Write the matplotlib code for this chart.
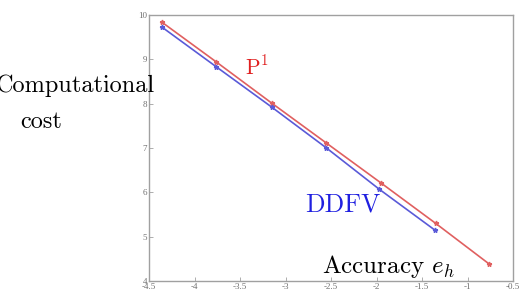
import matplotlib
matplotlib.use('Agg')
import matplotlib.pyplot as plt

plt.rcParams['mathtext.fontset'] = 'cm'

# log10 accuracy vs log10 computational cost
acc_p1 = [-4.36, -3.76, -3.15, -2.55, -1.95, -1.35, -0.76]
cost_p1 = [9.84, 8.94, 8.01, 7.11, 6.21, 5.30, 4.38]
acc_ddfv = [-4.36, -3.76, -3.15, -2.55, -1.97, -1.36]
cost_ddfv = [9.73, 8.83, 7.92, 7.00, 6.07, 5.15]

xticks = [-4.5, -4, -3.5, -3, -2.5, -2, -1.5, -1, -0.5]
xticklabels = ['-4.5', '-4', '-3.5', '-3', '-2.5', '-2', '-1.5', '-1', '-0.5']
yticks = [4, 5, 6, 7, 8, 9, 10]

red = '#e06060'
blue = '#5a5ad8'
grey = '#a0a0a0'

fig = plt.figure(figsize=(5.29, 2.97), dpi=100)
ax = fig.add_axes([0.2817, 0.0539, 0.6881, 0.8956])

ax.plot(acc_p1, cost_p1, color=red, lw=1.2, marker='*', ms=3.5)
ax.plot(acc_ddfv, cost_ddfv, color=blue, lw=1.2, marker='*', ms=3.5)

ax.set_xlim(-4.5, -0.5)
ax.set_ylim(4, 10)
ax.set_xticks(xticks)
ax.set_xticklabels(xticklabels)
ax.set_yticks(yticks)
ax.tick_params(direction='in', length=3, width=0.6, color=grey, labelcolor='#707070',
               labelsize=6.5, pad=1.5)
for lab in ax.get_xticklabels() + ax.get_yticklabels():
    lab.set_family('Liberation Serif')
for sp in ax.spines.values():
    sp.set_color(grey)
    sp.set_linewidth(1.0)

# annotations (placed in figure coords, baseline aligned)
fig.text(0.293, 0.690, 'Computational', ha='right', va='baseline',
         family='cmr10', fontsize=17.5)
fig.text(0.0378, 0.569, 'cost', ha='left', va='baseline',
         family='cmr10', fontsize=17.5)
fig.text(0.4631, 0.7475, r'$\mathrm{P}^1$', color='#e02020', fontsize=15.5,
         ha='left', va='baseline')
fig.text(0.5766, 0.2862, 'DDFV', color='#2020e0', family='cmr10', fontsize=18.5,
         ha='left', va='baseline')
fig.text(0.6087, 0.0808, r'Accuracy $e_h$', color='black', family='cmr10', fontsize=18,
         ha='left', va='baseline')

fig.savefig('out.png', dpi=100)
